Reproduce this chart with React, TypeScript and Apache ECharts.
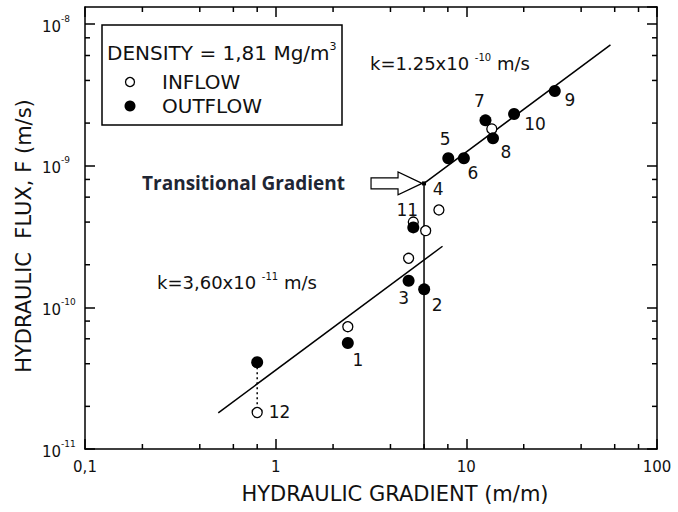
import { useEffect, useRef } from 'react';
import * as echarts from 'echarts';

// Axis ranges (log scales)
const X_MIN = 0.1;
const X_MAX = 100;
const Y_MIN = 1e-11;
const Y_MAX = 1.32e-8;

// Major tick labels
const X_TICK_VALUES = [0.1, 1, 10, 100];
const X_TICK_LABELS = ['0,1', '1', '10', '100'];
const Y_TICK_VALUES = [1e-11, 1e-10, 1e-9, 1e-8];
const Y_TICK_EXPONENTS = ['-11', '-10', '-9', '-8'];

// Minor ticks at 2, 4, 6, 8 of each decade
const X_MINOR_TICKS = [0.2, 0.4, 0.6, 0.8, 2, 4, 6, 8, 20, 40, 60, 80];
const Y_MINOR_TICKS = [
  2e-11, 4e-11, 6e-11, 8e-11,
  2e-10, 4e-10, 6e-10, 8e-10,
  2e-9, 4e-9, 6e-9, 8e-9,
];

// Outflow measurements: hydraulic gradient (m/m) and flux (m/s)
const OUTFLOW_GRADIENT = [0.8, 2.39, 4.98, 6.01, 5.27, 8.04, 9.71, 12.6, 13.8, 17.8, 29.1];
const OUTFLOW_FLUX = [4.1e-11, 5.6e-11, 1.54e-10, 1.34e-10, 3.67e-10, 1.13e-9, 1.13e-9, 2.09e-9, 1.56e-9, 2.32e-9, 3.37e-9];
const OUTFLOW_LABELS = ['', '1', '3', '2', '11', '5', '6', '7', '8', '10', '9'];

// Inflow measurements
const INFLOW_GRADIENT = [0.8, 2.39, 4.98, 5.27, 6.12, 7.18, 13.6];
const INFLOW_FLUX = [1.81e-11, 7.3e-11, 2.22e-10, 4.0e-10, 3.48e-10, 4.87e-10, 1.82e-9];
const INFLOW_LABELS = ['12', '', '', '', '', '4', ''];

// Darcy fits F = k·i below and above the transitional gradient
const K_LOWER = 3.6e-11;
const LOWER_RANGE = [0.5, 7.5];
const K_UPPER = 1.25e-10;
const UPPER_RANGE = [6, 57];
const TRANSITION_GRADIENT = 6;

// Sample-number label placement relative to its marker centre (px)
const LABEL_OFFSETS: Record<string, [number, number]> = {
  '1': [10, 17],
  '2': [13, 16],
  '3': [-5, 17],
  '4': [0, -20],
  '5': [-3, -19],
  '6': [9, 15],
  '7': [-6, -19],
  '8': [13, 14],
  '9': [15, 9],
  '10': [21, 10],
  '11': [-6, -17],
  '12': [23, 0],
};

const FONT = 'DejaVu Sans';
const INK = '#111';

function pointData(xs: number[], ys: number[], labels: string[], symbolSize: number) {
  const half = symbolSize / 2;
  return xs.map((x, i) => {
    const lbl = labels[i];
    const off = LABEL_OFFSETS[lbl] || [0, 0];
    return {
      value: [x, ys[i]],
      label: lbl
        ? {
            show: true,
            formatter: lbl,
            position: [half + off[0], half + off[1]],
            align: 'center',
            verticalAlign: 'middle',
            color: INK,
            opacity: 1,
            textBorderWidth: 0,
            fontSize: 17,
            fontFamily: FONT,
          }
        : { show: false },
    };
  });
}

function tickIndex(values: number[], v: number) {
  for (let i = 0; i < values.length; i++) {
    if (Math.abs(Math.log10(v) - Math.log10(values[i])) < 1e-6) return i;
  }
  return -1;
}

const axisLineStyle = { color: '#000', width: 1.5 };

export default function App() {
  const ref = useRef<HTMLDivElement>(null);

  useEffect(() => {
    if (!ref.current) return;
    const chart = echarts.init(ref.current, null, { renderer: 'svg' });

    const transitionFlux = K_UPPER * TRANSITION_GRADIENT;
    const OPEN_SIZE = 10;
    const FILLED_SIZE = 12;

    const option: any = {
      animation: false,
      textStyle: { fontFamily: FONT },
      grid: { left: 85, right: 21, top: 7, bottom: 63, containLabel: false },
      xAxis: [
        {
          type: 'log',
          logBase: 10,
          min: X_MIN,
          max: X_MAX,
          position: 'bottom',
          axisLine: { show: true, lineStyle: axisLineStyle },
          axisTick: { show: true, inside: true, length: 10, lineStyle: axisLineStyle },
          splitLine: { show: false },
          axisLabel: {
            margin: 10,
            fontSize: 15,
            color: INK,
            fontFamily: FONT,
            formatter: (v: number) => {
              const i = tickIndex(X_TICK_VALUES, v);
              return i >= 0 ? X_TICK_LABELS[i] : '';
            },
          },
        },
        {
          type: 'log',
          logBase: 10,
          min: X_MIN,
          max: X_MAX,
          position: 'top',
          axisLine: { show: true, lineStyle: axisLineStyle },
          axisTick: { show: true, inside: true, length: 10, lineStyle: axisLineStyle },
          splitLine: { show: false },
          axisLabel: { show: false },
        },
      ],
      yAxis: [
        {
          type: 'log',
          logBase: 10,
          min: Y_MIN,
          max: Y_MAX,
          position: 'left',
          axisLine: { show: true, lineStyle: axisLineStyle },
          axisTick: { show: true, inside: true, length: 10, lineStyle: axisLineStyle },
          splitLine: { show: false },
          axisLabel: {
            margin: 43,
            align: 'left',
            showMaxLabel: false,
            formatter: (v: number) => {
              const i = tickIndex(Y_TICK_VALUES, v);
              return i >= 0 ? `{b|10}{s|${Y_TICK_EXPONENTS[i]}}` : '';
            },
            rich: {
              b: { fontSize: 15, fontFamily: FONT, color: INK, lineHeight: 20, verticalAlign: 'bottom' },
              s: { fontSize: 9, fontFamily: FONT, color: INK, lineHeight: 20, verticalAlign: 'top' },
            },
          },
        },
        {
          type: 'log',
          logBase: 10,
          min: Y_MIN,
          max: Y_MAX,
          position: 'right',
          axisLine: { show: true, lineStyle: axisLineStyle },
          axisTick: { show: true, inside: true, length: 10, lineStyle: axisLineStyle },
          splitLine: { show: false },
          axisLabel: { show: false },
        },
      ],
      series: [
        // minor ticks on bottom and top edges
        {
          type: 'custom',
          silent: true,
          clip: false,
          z: 6,
          data: X_MINOR_TICKS.map((v) => [v, Y_MIN]),
          encode: { x: 0, y: 1 },
          renderItem: (params: any, api: any) => {
            const cs = params.coordSys;
            const px = api.coord([api.value(0), Y_MIN])[0];
            const yb = cs.y + cs.height;
            const yt = cs.y;
            return {
              type: 'group',
              children: [
                { type: 'line', shape: { x1: px, y1: yb, x2: px, y2: yb - 5 }, style: { stroke: '#000', lineWidth: 1.5 } },
                { type: 'line', shape: { x1: px, y1: yt, x2: px, y2: yt + 5 }, style: { stroke: '#000', lineWidth: 1.5 } },
              ],
            };
          },
        },
        // minor ticks on left and right edges
        {
          type: 'custom',
          silent: true,
          clip: false,
          z: 6,
          data: Y_MINOR_TICKS.map((v) => [X_MIN, v]),
          encode: { x: 0, y: 1 },
          renderItem: (params: any, api: any) => {
            const cs = params.coordSys;
            const py = api.coord([X_MIN, api.value(1)])[1];
            const xl = cs.x;
            const xr = cs.x + cs.width;
            return {
              type: 'group',
              children: [
                { type: 'line', shape: { x1: xl, y1: py, x2: xl + 5, y2: py }, style: { stroke: '#000', lineWidth: 1.5 } },
                { type: 'line', shape: { x1: xr, y1: py, x2: xr - 5, y2: py }, style: { stroke: '#000', lineWidth: 1.5 } },
              ],
            };
          },
        },
        // lower fit
        {
          type: 'line',
          silent: true,
          symbol: 'none',
          z: 2,
          lineStyle: { color: '#000', width: 1.5 },
          data: LOWER_RANGE.map((i) => [i, K_LOWER * i]),
        },
        // upper fit
        {
          type: 'line',
          silent: true,
          symbol: 'none',
          z: 2,
          lineStyle: { color: '#000', width: 1.5 },
          data: UPPER_RANGE.map((i) => [i, K_UPPER * i]),
        },
        // transitional gradient vertical
        {
          type: 'line',
          silent: true,
          z: 2,
          lineStyle: { color: '#000', width: 1.5 },
          itemStyle: { color: '#000' },
          data: [
            { value: [TRANSITION_GRADIENT, Y_MIN], symbol: 'none' },
            { value: [TRANSITION_GRADIENT, transitionFlux], symbol: 'rect', symbolSize: 4 },
          ],
        },
        // dotted link between sample 12 outflow and inflow
        {
          type: 'line',
          silent: true,
          symbol: 'none',
          z: 2,
          lineStyle: { color: '#000', width: 1.5, type: [2, 3] },
          data: [
            [OUTFLOW_GRADIENT[0], OUTFLOW_FLUX[0]],
            [INFLOW_GRADIENT[0], INFLOW_FLUX[0]],
          ],
        },
        // arrow + caption at the transitional gradient
        {
          type: 'custom',
          silent: true,
          clip: false,
          z: 7,
          data: [[TRANSITION_GRADIENT, transitionFlux]],
          encode: { x: 0, y: 1 },
          renderItem: (_params: any, api: any) => {
            const p = api.coord([api.value(0), api.value(1)]);
            const tx = p[0] - 2;
            const ty = p[1];
            const hx = tx - 24;
            const sx = tx - 51;
            return {
              type: 'group',
              children: [
                {
                  type: 'polygon',
                  shape: {
                    points: [
                      [tx, ty],
                      [hx, ty - 11.5],
                      [hx, ty - 5.5],
                      [sx, ty - 5.5],
                      [sx, ty + 5.5],
                      [hx, ty + 5.5],
                      [hx, ty + 11.5],
                    ],
                  },
                  style: { fill: '#fff', stroke: '#000', lineWidth: 1.2 },
                },
                {
                  type: 'text',
                  x: sx - 26,
                  y: ty,
                  style: {
                    text: 'Transitional Gradient',
                    fill: '#1f2633',
                    font: '700 19px "Open Sans"',
                    align: 'right',
                    verticalAlign: 'middle',
                  },
                },
              ],
            };
          },
        },
        {
          name: 'INFLOW',
          type: 'scatter',
          z: 4,
          symbol: 'circle',
          symbolSize: OPEN_SIZE,
          itemStyle: { color: '#fff', borderColor: '#000', borderWidth: 1.3, opacity: 1 },
          data: pointData(INFLOW_GRADIENT, INFLOW_FLUX, INFLOW_LABELS, OPEN_SIZE),
        },
        {
          name: 'OUTFLOW',
          type: 'scatter',
          z: 5,
          symbol: 'circle',
          symbolSize: FILLED_SIZE,
          itemStyle: { color: '#000', opacity: 1 },
          data: pointData(OUTFLOW_GRADIENT, OUTFLOW_FLUX, OUTFLOW_LABELS, FILLED_SIZE),
        },
      ],
      graphic: [
        // legend box
        {
          type: 'rect',
          z: 10,
          shape: { x: 102, y: 25, width: 240, height: 100 },
          style: { fill: '#fff', stroke: '#000', lineWidth: 1.5 },
        },
        {
          type: 'text',
          z: 11,
          x: 107,
          y: 53,
          style: {
            text: '{a|DENSITY = 1,81 Mg/m}{s|3}',
            verticalAlign: 'middle',
            rich: {
              a: { fontSize: 20, fontFamily: FONT, fill: INK, lineHeight: 24, verticalAlign: 'middle' },
              s: { fontSize: 11, fontFamily: FONT, fill: INK, lineHeight: 24, verticalAlign: 'top' },
            },
          },
        },
        {
          type: 'circle',
          z: 11,
          shape: { cx: 130, cy: 82, r: 4.5 },
          style: { fill: '#fff', stroke: '#000', lineWidth: 1.3 },
        },
        {
          type: 'text',
          z: 11,
          x: 162,
          y: 82,
          style: { text: 'INFLOW', fontSize: 20, fontFamily: FONT, fill: INK, verticalAlign: 'middle' },
        },
        {
          type: 'circle',
          z: 11,
          shape: { cx: 130, cy: 106, r: 5.5 },
          style: { fill: '#000' },
        },
        {
          type: 'text',
          z: 11,
          x: 162,
          y: 106,
          style: { text: 'OUTFLOW', fontSize: 20, fontFamily: FONT, fill: INK, verticalAlign: 'middle' },
        },
        // fit annotations
        {
          type: 'text',
          z: 11,
          x: 370,
          y: 63,
          style: {
            text: '{a|k=1.25x10 }{s|-10}{a| m/s}',
            verticalAlign: 'middle',
            rich: {
              a: { fontSize: 18, fontFamily: FONT, fill: INK, lineHeight: 22, verticalAlign: 'middle' },
              s: { fontSize: 10, fontFamily: FONT, fill: INK, lineHeight: 22, verticalAlign: 'top' },
            },
          },
        },
        {
          type: 'text',
          z: 11,
          x: 157,
          y: 282,
          style: {
            text: '{a|k=3,60x10 }{s|-11}{a| m/s}',
            verticalAlign: 'middle',
            rich: {
              a: { fontSize: 18, fontFamily: FONT, fill: INK, lineHeight: 22, verticalAlign: 'middle' },
              s: { fontSize: 10, fontFamily: FONT, fill: INK, lineHeight: 22, verticalAlign: 'top' },
            },
          },
        },
        // axis titles
        {
          type: 'text',
          x: 395,
          y: 494,
          style: {
            text: 'HYDRAULIC GRADIENT (m/m)',
            fontSize: 21,
            fontFamily: FONT,
            fill: INK,
            align: 'center',
            verticalAlign: 'middle',
          },
        },
        {
          type: 'text',
          x: 24,
          y: 236,
          rotation: Math.PI / 2,
          style: {
            text: 'HYDRAULIC  FLUX, F (m/s)',
            fontSize: 21,
            fontFamily: FONT,
            fill: INK,
            align: 'center',
            verticalAlign: 'middle',
          },
        },
      ],
    };

    chart.setOption(option);
    return () => chart.dispose();
  }, []);

  return (
    <div
      ref={ref}
      style={{ position: 'absolute', left: 0, top: 0, width: 678, height: 512, background: '#fff' }}
    />
  );
}
